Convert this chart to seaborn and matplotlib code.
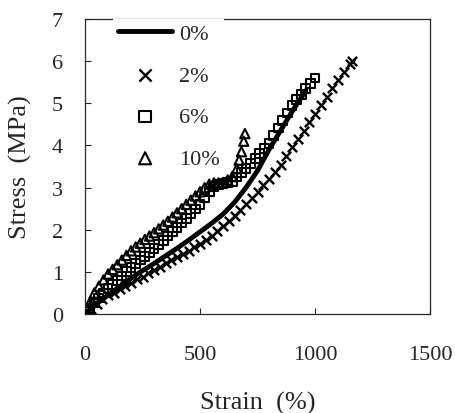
import matplotlib
matplotlib.use("Agg")
import matplotlib.pyplot as plt
import seaborn as sns

# 0% - solid line
strain_0 = [0, 50, 100, 150, 200, 250, 300, 350, 400, 450, 500, 550, 600,
            650, 700, 750, 800, 850, 900, 960]
stress_0 = [0.0, 0.25, 0.45, 0.65, 0.85, 1.03, 1.2, 1.38, 1.56, 1.75, 1.95,
            2.15, 2.37, 2.65, 3.0, 3.4, 3.9, 4.35, 4.8, 5.3]

# 2% - crosses
strain_2 = [0, 25, 50, 75, 100, 125, 150, 175, 200, 225, 250, 275, 300, 325,
            350, 375, 400, 425, 450, 475, 500, 525, 550, 575, 600, 625, 650,
            675, 700, 725, 750, 775, 800, 825, 850, 875, 900, 925, 950, 975,
            1000, 1025, 1050, 1075, 1100, 1125, 1150, 1160]
stress_2 = [0.0, 0.13, 0.24, 0.35, 0.44, 0.51, 0.59, 0.67, 0.74, 0.82, 0.89,
            0.97, 1.05, 1.12, 1.2, 1.27, 1.35, 1.42, 1.5, 1.58, 1.67, 1.76,
            1.86, 1.96, 2.08, 2.2, 2.33, 2.46, 2.6, 2.75, 2.9, 3.05, 3.21,
            3.37, 3.54, 3.74, 3.95, 4.15, 4.35, 4.55, 4.75, 4.95, 5.15, 5.35,
            5.55, 5.75, 5.93, 6.0]

# 6% - squares
strain_6 = [0, 20, 40, 60, 80, 100, 120, 140, 160, 180, 200, 220, 240, 260,
            280, 300, 320, 340, 360, 380, 400, 420, 440, 460, 480, 500, 520,
            540, 560, 580, 600, 620, 640, 660, 680, 700, 720, 740, 760, 780,
            800, 820, 840, 860, 880, 900, 920, 940, 960, 980, 1000]
stress_6 = [0.0, 0.14, 0.26, 0.38, 0.5, 0.6, 0.7, 0.8, 0.9, 1.0, 1.1, 1.19,
            1.28, 1.37, 1.46, 1.55, 1.65, 1.75, 1.85, 1.95, 2.05, 2.16, 2.27,
            2.38, 2.49, 2.6, 2.75, 2.9, 3.02, 3.08, 3.1, 3.12, 3.15, 3.25,
            3.35, 3.45, 3.57, 3.69, 3.81, 3.93, 4.05, 4.23, 4.41, 4.59, 4.77,
            4.95, 5.08, 5.21, 5.34, 5.47, 5.6]

# 10% - triangles
strain_10 = [0, 20, 40, 60, 80, 100, 120, 140, 160, 180, 200, 220, 240, 260,
             280, 300, 320, 340, 360, 380, 400, 420, 440, 460, 480, 500, 520,
             540, 560, 580, 600, 620, 640, 660, 670, 680, 690, 695]
stress_10 = [0.0, 0.27, 0.5, 0.66, 0.81, 0.95, 1.06, 1.17, 1.28, 1.39, 1.5,
             1.59, 1.68, 1.77, 1.85, 1.93, 2.02, 2.11, 2.2, 2.3, 2.4, 2.5,
             2.6, 2.7, 2.8, 2.9, 3.0, 3.08, 3.11, 3.11, 3.12, 3.18, 3.26,
             3.45, 3.65, 3.85, 4.1, 4.28]

sns.set_style("ticks")
plt.rcParams['font.family'] = ['Liberation Serif', 'DejaVu Serif']

fig = plt.figure(figsize=(4.55, 4.14), dpi=100)
ax = fig.add_axes([0.187, 0.239, 0.758, 0.713])

sns.lineplot(x=strain_0, y=stress_0, color='black', linewidth=3.5,
             label='0%', ax=ax, zorder=3)
sns.scatterplot(x=strain_2, y=stress_2, marker='x', s=45, color='black',
                linewidth=1.7, label='2%', ax=ax, zorder=2)
sns.scatterplot(x=strain_6, y=stress_6, marker='s', s=40, facecolors='none',
                edgecolor='black', linewidth=1.5, label='6%', ax=ax, zorder=2)
sns.scatterplot(x=strain_10, y=stress_10, marker='^', s=45, facecolors='none',
                edgecolor='black', linewidth=1.5, label='10%', ax=ax, zorder=2)

ax.set_xlim(0, 1500)
ax.set_ylim(0, 7)
ax.set_xticks([0, 500, 1000, 1500])
ax.set_yticks(range(0, 8))
ax.tick_params(direction='in', length=4, width=0.8, labelsize=16)
ax.tick_params(axis='x', pad=22)
ax.tick_params(axis='y', pad=16)
for sp in ax.spines.values():
    sp.set_linewidth(0.9)
    sp.set_visible(True)

ax.set_xlabel('Strain  (%)', fontsize=19, labelpad=20)
ax.set_ylabel('Stress  (MPa)', fontsize=19, labelpad=14)

leg = ax.legend(loc='upper left', bbox_to_anchor=(0.05, 1.037), fontsize=16,
                frameon=True, facecolor='white', edgecolor='none',
                framealpha=1, handlelength=2.45, handletextpad=0.3,
                labelspacing=0.95, borderpad=0.2, markerscale=1.3)
leg.get_frame().set_boxstyle('square', pad=0)

fig.savefig('out.png', dpi=100)
